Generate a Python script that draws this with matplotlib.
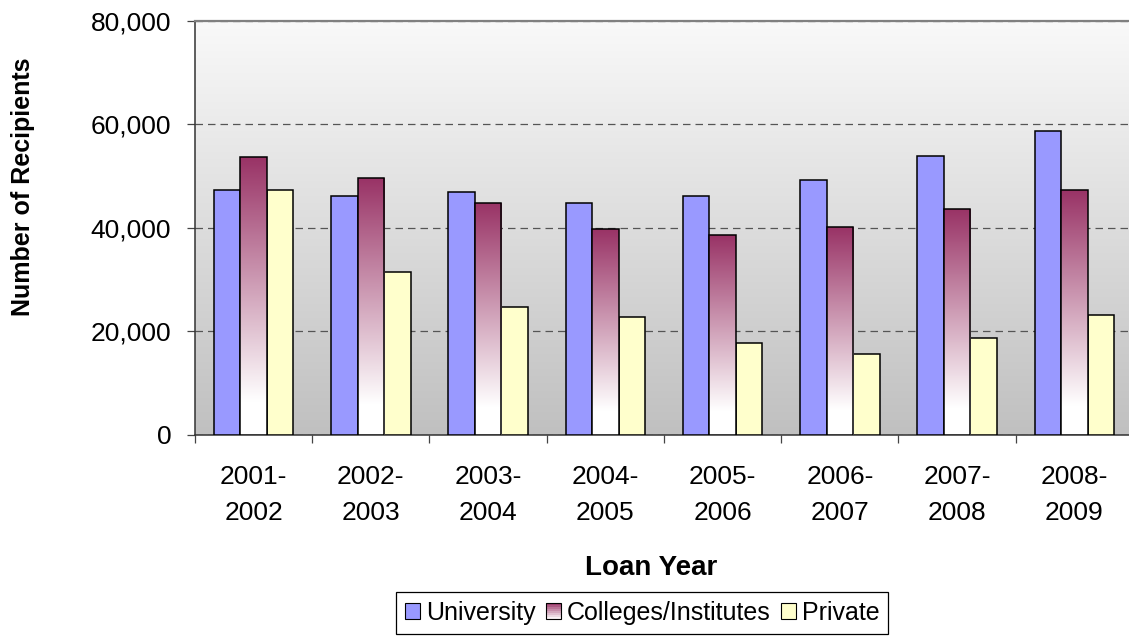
import matplotlib

matplotlib.use("Agg")
import matplotlib.pyplot as plt
import numpy as np
from matplotlib.colors import LinearSegmentedColormap, to_rgb
from matplotlib.legend_handler import HandlerBase
from matplotlib.patches import Patch, Rectangle
from matplotlib.ticker import FuncFormatter, MultipleLocator

plt.rcParams["font.family"] = ["Liberation Sans", "DejaVu Sans"]

years = ["2001-\n2002", "2002-\n2003", "2003-\n2004", "2004-\n2005",
         "2005-\n2006", "2006-\n2007", "2007-\n2008", "2008-\n2009"]
university = [47300, 46100, 46800, 44800, 46100, 49200, 53900, 58700]
colleges = [53600, 49600, 44800, 39800, 38500, 40100, 43600, 47300]
private = [47300, 31400, 24700, 22700, 17600, 15500, 18700, 23100]

UNI_COLOR = "#9999ff"
COL_TOP = "#993366"
PRIV_COLOR = "#ffffcc"

# vertical fade: plum at the top of each bar, white at its base
col_cmap = LinearSegmentedColormap.from_list(
    "col_fade", [(0.0, "#ffffff"), (0.12, "#ffffff"), (1.0, COL_TOP)])
bg_cmap = LinearSegmentedColormap.from_list("bg", ["#c0c0c0", "#f9f9f9"])


class GradientBox(HandlerBase):
    def create_artists(self, legend, orig_handle, xdescent, ydescent,
                       width, height, fontsize, trans):
        x0, y0 = -xdescent, -ydescent
        n = 8
        top = np.array(to_rgb(COL_TOP))
        arts = []
        for k in range(n):
            t = (k + 0.5) / n
            c = top * t + np.ones(3) * (1 - t)
            arts.append(Rectangle((x0, y0 + height * k / n), width, height / n,
                                  facecolor=c, edgecolor="none", transform=trans))
        arts.append(Rectangle((x0, y0), width, height, facecolor="none",
                              edgecolor="black", linewidth=0.8, transform=trans))
        return arts


fig = plt.figure(figsize=(11.29, 6.36), dpi=100)
ax = fig.add_axes([0.1727, 0.3168, 0.8308, 0.6507])

n = len(years)
x = np.arange(n) + 0.5
w = 0.226

# plot-area background gradient
ax.imshow(np.linspace(0, 1, 256).reshape(-1, 1), cmap=bg_cmap, origin="lower",
          extent=[0, n, 0, 80000], aspect="auto", zorder=0)

ax.bar(x - w, university, w, color=UNI_COLOR, edgecolor="black", linewidth=1.1, zorder=3)
col_bars = ax.bar(x, colleges, w, color="none", edgecolor="black", linewidth=1.1, zorder=4)
ax.bar(x + w, private, w, color=PRIV_COLOR, edgecolor="black", linewidth=1.1, zorder=3)

grad = np.linspace(0, 1, 256).reshape(-1, 1)
for bar in col_bars:
    bx, bw, bh = bar.get_x(), bar.get_width(), bar.get_height()
    ax.imshow(grad, cmap=col_cmap, origin="lower", aspect="auto",
              extent=[bx, bx + bw, 0, bh], zorder=3)

ax.set_xlim(0, n)
ax.set_ylim(0, 80000)

ax.yaxis.set_major_locator(MultipleLocator(20000))
ax.yaxis.set_major_formatter(FuncFormatter(lambda v, p: f"{int(v):,}"))
ax.grid(axis="y", color="#555555", linestyle=(0, (6, 4)), linewidth=0.9, zorder=1)

ax.set_xticks(x)
ax.set_xticklabels(years, linespacing=1.62)
ax.set_xticks(np.arange(n + 1), minor=True)
ax.tick_params(axis="x", which="major", length=0, pad=22, labelsize=19)
ax.tick_params(axis="x", which="minor", length=6, width=0.9, color="#444444")
ax.tick_params(axis="y", length=6, width=0.9, color="#444444", pad=11, labelsize=19)

for side in ("left", "bottom"):
    ax.spines[side].set_color("#333333")
    ax.spines[side].set_linewidth(1.1)
ax.spines["top"].set_color("#808080")
ax.spines["top"].set_linewidth(1.6)
ax.spines["right"].set_visible(False)

fig.text(23 / 1129, 1 - 187 / 636, "Number of Recipients", rotation=90,
         ha="center", va="center", fontsize=18, fontweight="bold")
fig.text(651 / 1129, 1 - 568 / 636, "Loan Year", ha="center", va="center",
         fontsize=20, fontweight="bold")

handles = [
    Patch(facecolor=UNI_COLOR, edgecolor="black", linewidth=0.8),
    Patch(facecolor=COL_TOP, edgecolor="black"),
    Patch(facecolor=PRIV_COLOR, edgecolor="black", linewidth=0.8),
]
labels = ["University", "Colleges/Institutes", "Private"]
leg = fig.legend(handles, labels, loc="upper center",
                 bbox_to_anchor=(642 / 1129, 1 - 592 / 636), borderaxespad=0,
                 ncol=3, fontsize=18, frameon=True, fancybox=False,
                 framealpha=1, edgecolor="black", handlelength=0.6,
                 handleheight=0.6, handletextpad=0.25, columnspacing=0.4,
                 borderpad=0.35, handler_map={handles[1]: GradientBox()})
leg.get_frame().set_linewidth(0.9)

fig.savefig("out.png", dpi=100)
